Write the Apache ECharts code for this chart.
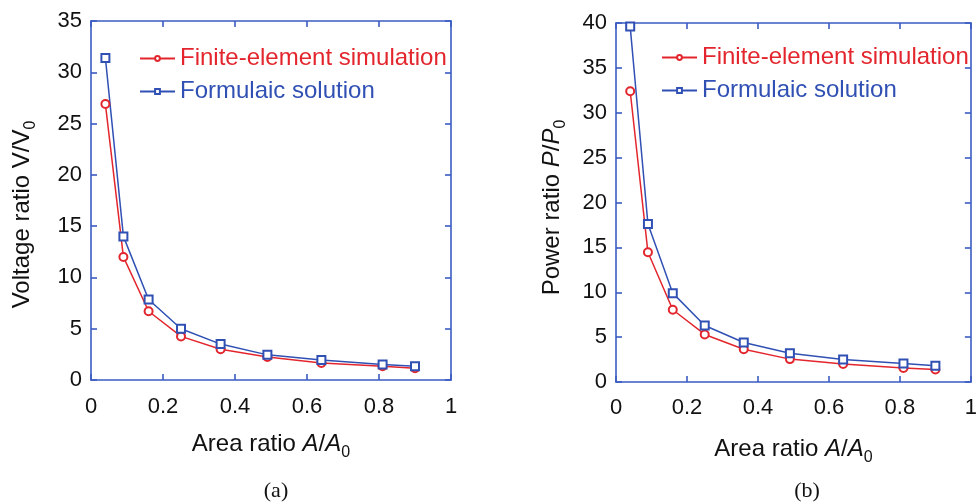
<!DOCTYPE html>
<html>
<head>
<meta charset="utf-8">
<script src="https://cdn.jsdelivr.net/npm/echarts@6/dist/echarts.min.js"></script>
<style>
  html, body { margin: 0; padding: 0; background: #fff; }
  #main { width: 980px; height: 504px; }
</style>
</head>
<body>
<div id="main"></div>
<script>
// data
var areaRatio = [0.04, 0.09, 0.16, 0.25, 0.36, 0.49, 0.64, 0.81, 0.9]
var voltFE = [26.9, 12.0, 6.7, 4.25, 3.0, 2.25, 1.65, 1.35, 1.15]
var voltFormula = [31.4, 14.0, 7.85, 5.0, 3.5, 2.45, 1.95, 1.5, 1.35]
var powerFE = [32.4, 14.45, 8.05, 5.3, 3.65, 2.55, 2.0, 1.55, 1.4]
var powerFormula = [39.6, 17.6, 9.9, 6.3, 4.4, 3.2, 2.5, 2.05, 1.8]
var xTicks = [0, 0.2, 0.4, 0.6, 0.8, 1]

var RED = '#e3262d'
var BLUE = '#3050b4'
var FRAME = '#3a5cc2'
var FONT = 'Liberation Sans, Arial, sans-serif'

function pairs(xs, ys) {
    var out = []
    for (var i = 0; i < xs.length; i++) {
        out.push([xs[i], ys[i]])
    }
    return out
}

var nameRich = {
    n: { fontSize: 24, fontFamily: FONT, color: '#111', lineHeight: 28 },
    i: { fontSize: 24, fontFamily: FONT, color: '#111', fontStyle: 'italic', lineHeight: 28 },
    s: { fontSize: 16, fontFamily: FONT, color: '#111', lineHeight: 16, verticalAlign: 'bottom', padding: [0, 0, -3, 0] }
}

function xAxes(grid, gap, margin) {
    var common = {
        gridIndex: grid,
        type: 'value',
        min: 0, max: 1, interval: 0.2,
        axisLine: { show: true, onZero: false, lineStyle: { color: FRAME, width: 1.6 } },
        axisTick: { show: true, inside: true, length: 6, lineStyle: { color: FRAME, width: 1.6 } },
        splitLine: { show: false }
    }
    var bottom = Object.assign({}, common, {
        position: 'bottom',
        name: '{n|Area ratio }{i|A}{n|/}{i|A}{s|0}',
        nameLocation: 'middle',
        nameGap: gap,
        nameTextStyle: { rich: nameRich },
        axisLabel: {
            color: '#111', fontSize: 22, fontFamily: FONT, margin: margin,
            formatter: function (v) {
                var r = Math.round(v * 10) / 10
                return xTicks.indexOf(r) >= 0 ? String(r) : ''
            }
        }
    })
    var top = Object.assign({}, common, {
        position: 'top',
        axisLabel: { show: false }
    })
    return [bottom, top]
}

function yAxes(grid, max, name, gap, pad) {
    var common = {
        gridIndex: grid,
        type: 'value',
        min: 0, max: max, interval: 5,
        axisLine: { show: true, onZero: false, lineStyle: { color: FRAME, width: 1.6 } },
        axisTick: { show: true, inside: true, length: 6, lineStyle: { color: FRAME, width: 1.6 } },
        splitLine: { show: false }
    }
    var left = Object.assign({}, common, {
        position: 'left',
        name: name,
        nameLocation: 'middle',
        nameGap: gap,
        nameTextStyle: { rich: nameRich, padding: [0, pad, 0, 0] },
        axisLabel: { color: '#111', fontSize: 22, fontFamily: FONT, margin: 9 }
    })
    var right = Object.assign({}, common, {
        position: 'right',
        axisLabel: { show: false }
    })
    return [left, right]
}

// FE series use bottom/left axes, formula series use top/right axes
// (same scales), so all four frame sides get drawn with their ticks
function lineSeries(name, data, xi, yi, color, symbol) {
    return {
        name: name,
        type: 'line',
        xAxisIndex: xi,
        yAxisIndex: yi,
        data: data,
        symbol: symbol,
        symbolSize: 8,
        showSymbol: true,
        lineStyle: { color: color, width: 1.5 },
        itemStyle: { color: color, borderColor: color, borderWidth: 1.3 },
        emphasis: { disabled: true }
    }
}

function legend(left, top) {
    return {
        left: left,
        top: top,
        padding: 0,
        orient: 'vertical',
        itemWidth: 35,
        itemHeight: 6,
        itemGap: 6,
        textStyle: { fontSize: 24, fontFamily: FONT, lineHeight: 27 },
        data: [
            { name: 'Finite-element simulation', textStyle: { color: RED } },
            { name: 'Formulaic solution', textStyle: { color: BLUE } }
        ]
    }
}

var myChart = echarts.init(document.getElementById('main'))

var captionStyle = { fontFamily: 'Liberation Serif, Times New Roman, serif', fontSize: 22, fontWeight: 'normal', color: '#111' }

var option = {
    backgroundColor: '#fff',
    animation: false,
    title: [
        { text: '(a)', left: 271, top: 475, textAlign: 'center', textStyle: captionStyle },
        { text: '(b)', left: 802, top: 475, textAlign: 'center', textStyle: captionStyle }
    ],
    grid: [
        { left: 91, right: 529, top: 21, bottom: 124 },
        { left: 616, right: 4, top: 23, bottom: 122 }
    ],
    legend: [legend(139, 45), legend(661, 44)],
    xAxis: xAxes(0, 50, 16).concat(xAxes(1, 53, 15)),
    yAxis: yAxes(0, 35, '{n|Voltage ratio V/V}{s|0}', 55, 28)
        .concat(yAxes(1, 40, '{n|Power ratio }{i|P}{n|/}{i|P}{s|0}', 50, 10)),
    series: [
        lineSeries('Finite-element simulation', pairs(areaRatio, voltFE), 0, 0, RED, 'emptyCircle'),
        lineSeries('Formulaic solution', pairs(areaRatio, voltFormula), 1, 1, BLUE, 'emptyRect'),
        lineSeries('Finite-element simulation', pairs(areaRatio, powerFE), 2, 2, RED, 'emptyCircle'),
        lineSeries('Formulaic solution', pairs(areaRatio, powerFormula), 3, 3, BLUE, 'emptyRect')
    ]
}

myChart.setOption(option)
</script>
</body>
</html>
